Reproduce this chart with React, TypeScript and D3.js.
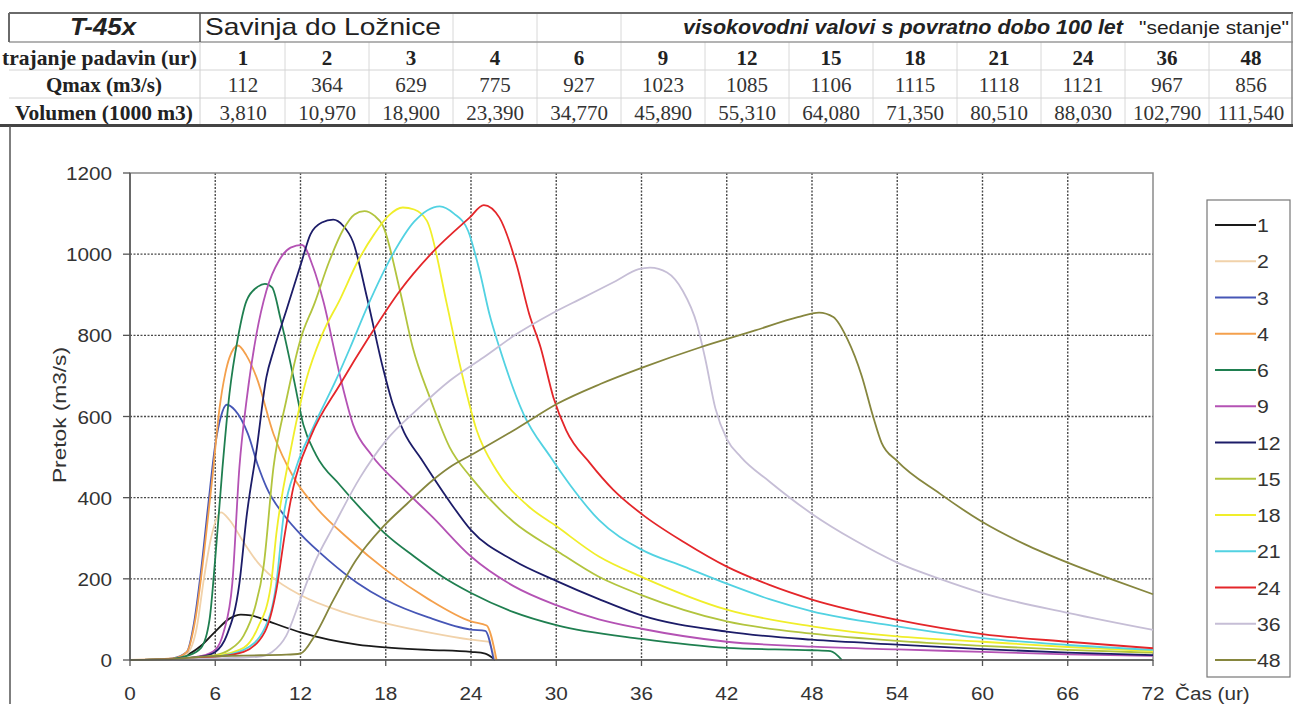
import React from 'react';
import * as d3 from 'd3';

// ---------- table data ----------
const durations = ['1', '2', '3', '4', '6', '9', '12', '15', '18', '21', '24', '36', '48'];
const qmaxValues = ['112', '364', '629', '775', '927', '1023', '1085', '1106', '1115', '1118', '1121', '967', '856'];
const volumeValues = ['3,810', '10,970', '18,900', '23,390', '34,770', '45,890', '55,310', '64,080', '71,350', '80,510', '88,030', '102,790', '111,540'];

// ---------- axes ----------
const xTicks = [0, 6, 12, 18, 24, 30, 36, 42, 48, 54, 60, 66, 72];
const yTicks = [0, 200, 400, 600, 800, 1000, 1200];

// ---------- series colours ----------
const seriesColors = ['#1a1a1a', '#f1d2aa', '#4656b6', '#f4a04c', '#1f7f50', '#b452b4', '#1c1c68', '#b2c43e', '#f0ee2a', '#52d2e2', '#e4262a', '#c6bed6', '#86863e'];

// ---------- hydrographs [time (h), Q (m3/s)] ----------
const wave1: [number, number][] = [[0, 0], [2, 1], [3, 3], [4, 12], [5, 35], [6, 70], [7, 102], [7.8, 112], [8.5, 110], [10, 92], [12, 68], [14, 50], [16, 38], [18, 31], [21, 25], [24, 20], [25, 16], [25.7, 0]];
const wave2: [number, number][] = [[0, 0], [3, 2], [4, 15], [4.7, 80], [5.2, 200], [5.7, 300], [6.4, 364], [7, 345], [8, 290], [9, 240], [10, 205], [12, 160], [15, 118], [18, 90], [21, 68], [24, 50], [25.2, 45], [25.7, 0]];
const wave3: [number, number][] = [[0, 0], [2, 1], [3, 4], [4, 20], [4.5, 90], [5, 220], [5.5, 380], [6, 530], [6.4, 600], [6.8, 629], [7.4, 615], [8.3, 557], [9, 480], [9.6, 426], [11, 350], [12, 310], [14, 245], [16, 190], [18, 148], [21, 105], [24, 75], [25, 72], [25.6, 0]];
const wave4: [number, number][] = [[0, 0], [3, 4], [4, 20], [4.6, 100], [5.2, 260], [5.8, 450], [6.3, 620], [6.7, 705], [7.0, 745], [7.6, 775], [8.2, 750], [8.9, 697], [10.1, 557], [11.5, 451], [13, 380], [15.5, 295], [18, 222], [21, 150], [24, 95], [25.1, 85], [25.8, 0]];
const wave6: [number, number][] = [[0, 0], [3, 3], [4, 10], [5, 30], [5.6, 100], [6, 250], [6.5, 470], [7, 656], [7.6, 795], [8.2, 885], [9, 920], [9.5, 927], [10, 918], [10.6, 840], [11.5, 697], [12.2, 580], [13.1, 505], [14.8, 430], [17, 345], [18, 310], [20, 255], [22, 205], [24, 165], [27, 118], [30, 86], [36, 52], [42, 30], [48, 24], [49.3, 22], [50.1, 0]];
const wave9: [number, number][] = [[0, 0], [3, 2], [5, 10], [6, 25], [6.6, 70], [7.2, 189], [7.7, 475], [8.2, 639], [8.9, 803], [9.6, 910], [10.5, 985], [11.3, 1016], [12.1, 1023], [12.9, 967], [13.6, 885], [14.8, 697], [15.7, 580], [17, 505], [19, 430], [21.3, 352], [24, 255], [27, 182], [30, 135], [33, 100], [36, 77], [42, 45], [48, 33], [54, 26], [60, 20], [66, 14], [72, 10]];
const wave12: [number, number][] = [[0, 0], [3, 2], [5, 8], [6, 20], [6.8, 60], [7.7, 189], [8.2, 352], [8.9, 516], [9.6, 697], [10.1, 762], [11, 861], [12.1, 984], [12.7, 1049], [13.5, 1078], [14.3, 1085], [15, 1070], [15.7, 1030], [16.7, 890], [17.8, 720], [18.5, 630], [19.3, 560], [20.5, 495], [22.5, 390], [24, 320], [27, 245], [30, 195], [33, 150], [36, 110], [42, 70], [48, 50], [54, 38], [60, 27], [66, 18], [72, 12]];
const wave15: [number, number][] = [[0, 0], [3, 2], [6, 12], [7, 25], [8, 60], [8.8, 130], [9.4, 230], [10.1, 475], [11, 640], [12, 790], [13, 880], [14, 980], [15, 1060], [15.8, 1098], [16.5, 1106], [17.2, 1095], [17.8, 1070], [19, 910], [19.9, 770], [21.1, 647], [22.5, 524], [24, 450], [27, 340], [30, 270], [33, 205], [36, 160], [42, 95], [48, 65], [54, 47], [60, 35], [66, 25], [72, 18]];
const wave18: [number, number][] = [[0, 0], [3, 2], [6, 10], [8, 30], [9, 80], [9.9, 180], [10.3, 311], [11.3, 516], [12.4, 690], [13.5, 800], [14.8, 890], [16, 980], [17.2, 1050], [18.2, 1095], [19.2, 1115], [20, 1110], [20.9, 1082], [22.3, 877], [23.2, 730], [24.4, 566], [25.8, 467], [28, 380], [30, 330], [33, 255], [36, 205], [42, 124], [48, 83], [54, 58], [60, 45], [66, 32], [72, 22]];
const wave21: [number, number][] = [[0, 0], [3, 2], [6, 8], [8, 25], [9.5, 80], [10.3, 189], [10.8, 352], [11.7, 475], [12.9, 574], [14.5, 690], [15.5, 770], [16.7, 870], [18.5, 1000], [20, 1080], [21.8, 1118], [22.8, 1100], [23.8, 1057], [24.6, 959], [25.3, 852], [26, 770], [27.7, 606], [29.6, 500], [31, 430], [33, 345], [36, 272], [39, 230], [42, 188], [45, 150], [48, 120], [54, 83], [60, 54], [66, 37], [72, 25]];
const wave24: [number, number][] = [[0, 0], [3, 2], [6, 8], [8, 20], [9.5, 70], [10.3, 172], [10.9, 311], [11.5, 426], [12.7, 549], [14.8, 680], [16.9, 800], [19, 910], [21.3, 1005], [23.9, 1090], [24.9, 1121], [26, 1090], [27.2, 975], [28.1, 852], [28.9, 770], [29.8, 647], [30.7, 566], [32.4, 484], [34, 420], [36, 360], [39, 290], [42, 230], [45, 185], [48, 149], [54, 99], [60, 64], [66, 45], [72, 29]];
const wave36: [number, number][] = [[0, 0], [3, 1], [6, 4], [9, 8], [10, 20], [11, 60], [12, 150], [13, 240], [14.3, 328], [16.2, 450], [18, 540], [20.3, 620], [22.5, 688], [24.9, 746], [27.2, 803], [29.6, 852], [31.9, 893], [34.2, 934], [35.8, 963], [36.6, 967], [37.8, 955], [38.9, 910], [39.9, 828], [40.5, 740], [41.2, 620], [42, 545], [43, 500], [45, 440], [48, 360], [51, 295], [54, 240], [57, 200], [60, 165], [66, 116], [72, 74]];
const wave48: [number, number][] = [[0, 0], [3, 2], [5, 8], [8, 11], [11, 13], [12, 16], [13, 60], [14.3, 147], [15.9, 246], [17.8, 328], [19.5, 385], [21.3, 443], [22.5, 475], [24, 505], [27.2, 570], [30.1, 632], [33.1, 680], [36.1, 721], [40.1, 770], [44, 812], [47, 845], [48.5, 856], [49.5, 845], [50.5, 790], [51.5, 700], [52.3, 600], [52.9, 535], [54, 490], [57, 410], [60, 340], [63, 285], [66, 240], [69, 200], [72, 162]];

const waves = [wave1, wave2, wave3, wave4, wave6, wave9, wave12, wave15, wave18, wave21, wave24, wave36, wave48];

const SANS = '"Liberation Sans", Arial, sans-serif';
const SERIF = '"Liberation Serif", "Times New Roman", serif';

type TProps = {
  x: number; y: number; children: React.ReactNode; anchor?: string; size: number;
  family?: string; weight?: string; italic?: boolean; fill?: string; sx?: number; len?: number; rotate?: number;
};
function T({ x, y, children, anchor = 'middle', size, family = SANS, weight = 'normal', italic = false, fill = '#222', sx = 1, len, rotate = 0 }: TProps) {
  const extra: any = {};
  if (len) { extra.textLength = len; extra.lengthAdjust = 'spacingAndGlyphs'; }
  return (
    <text
      transform={`translate(${x},${y}) rotate(${rotate}) scale(${sx},1)`}
      textAnchor={anchor as any}
      fontSize={size}
      fontFamily={family}
      fontWeight={weight}
      fontStyle={italic ? 'italic' : 'normal'}
      fill={fill}
      {...extra}
    >{children}</text>
  );
}

export default function App() {
  const W = 1293, H = 704;
  const x = d3.scaleLinear().domain([0, 72]).range([130, 1153]);
  const y = d3.scaleLinear().domain([0, 1200]).range([660, 173]);
  const col = d3.scaleBand<string>().domain(durations).range([201, 1293]);
  const line = d3.line<[number, number]>().x(d => x(d[0])).y(d => y(d[1])).curve(d3.curveMonotoneX);
  const legendY = d3.scalePoint<string>().domain(durations).range([225, 660]);

  return (
    <svg width={W} height={H} style={{ position: 'absolute', left: 0, top: 0, background: '#fff' }}>
      <rect x={0} y={0} width={W} height={H} fill="#fff" />
      {/* ---------- table ---------- */}
      {durations.map((d, i) => i > 0 ? (
        <line key={'cv' + d} x1={col(d)!} x2={col(d)!} y1={42} y2={126} stroke="#d8d8d8" strokeWidth={1} />
      ) : null)}
      {['4', '6', '9'].map(d => (
        <line key={'tv' + d} x1={col(d)!} x2={col(d)!} y1={13} y2={42} stroke="#d8d8d8" strokeWidth={1} />
      ))}
      <line x1={9} x2={1293} y1={70} y2={70} stroke="#d4d4d4" strokeWidth={1} />
      <line x1={9} x2={1293} y1={98} y2={98} stroke="#d4d4d4" strokeWidth={1} />
      <line x1={9} x2={1293} y1={42} y2={42} stroke="#9a9a9a" strokeWidth={1.5} />
      <line x1={9} x2={1293} y1={13} y2={13} stroke="#6a6a6a" strokeWidth={2} />
      <line x1={9} x2={9} y1={13} y2={42} stroke="#6a6a6a" strokeWidth={2} />
      <line x1={200} x2={200} y1={13} y2={42} stroke="#555" strokeWidth={1.5} />
      <line x1={200} x2={200} y1={42} y2={126} stroke="#d0d0d0" strokeWidth={1} />
      <line x1={1292} x2={1292} y1={13} y2={126} stroke="#888" strokeWidth={1.5} />
      <line x1={0} x2={1293} y1={125.5} y2={125.5} stroke="#444" strokeWidth={3} />

      <T x={103} y={35} size={24} weight="bold" italic len={66}>T-45x</T>
      <T x={205} y={35} size={24} anchor="start" len={236}>Savinja do Ložnice</T>
      <T x={1123} y={34} size={20} weight="bold" italic anchor="end" len={440}>visokovodni valovi s povratno dobo 100 let</T>
      <T x={1289} y={34} size={19} anchor="end" len={150}>"sedanje stanje"</T>

      <T x={2} y={65} size={21} family={SERIF} weight="bold" anchor="start" len={195}>trajanje padavin (ur)</T>
      <T x={104} y={92} size={21} family={SERIF} weight="bold">Qmax (m3/s)</T>
      <T x={104} y={120} size={21} family={SERIF} weight="bold" len={178}>Volumen (1000 m3)</T>
      {durations.map((d, i) => (
        <g key={'tc' + d}>
          <T x={col(d)! + col.bandwidth() / 2} y={65} size={21} family={SERIF} weight="bold" fill="#222">{d}</T>
          <T x={col(d)! + col.bandwidth() / 2} y={92} size={21} family={SERIF} fill="#333">{qmaxValues[i]}</T>
          <T x={col(d)! + col.bandwidth() / 2} y={120} size={21} family={SERIF} fill="#333">{volumeValues[i]}</T>
        </g>
      ))}

      {/* ---------- chart frame ---------- */}
      <line x1={10} x2={10} y1={126} y2={H} stroke="#555" strokeWidth={1.5} />

      {/* grid */}
      {yTicks.filter(v => v > 0 && v < 1200).map(v => (
        <line key={'gy' + v} x1={x(0)} x2={x(72)} y1={y(v)} y2={y(v)} stroke="#4a4a4a" strokeWidth={1.4} strokeDasharray="2 1.5" />
      ))}
      {xTicks.filter(v => v > 0 && v < 72).map(v => (
        <line key={'gx' + v} x1={x(v)} x2={x(v)} y1={y(1200)} y2={y(0)} stroke="#4a4a4a" strokeWidth={1.4} strokeDasharray="2 1.5" />
      ))}
      <rect x={x(0)} y={y(1200)} width={x(72) - x(0)} height={y(0) - y(1200)} fill="none" stroke="#8a8a8a" strokeWidth={1.5} />

      {/* series */}
      {waves.map((w, i) => (
        <path key={'s' + i} d={line(w) || ''} fill="none" stroke={seriesColors[i]} strokeWidth={1.8} strokeLinejoin="round" />
      ))}

      {/* axes */}
      <line x1={x(0)} x2={x(72)} y1={y(0)} y2={y(0)} stroke="#555" strokeWidth={1.5} />
      <line x1={x(0)} x2={x(0)} y1={y(0)} y2={y(1200)} stroke="#555" strokeWidth={1.5} />
      {xTicks.map(v => (
        <g key={'xt' + v}>
          <line x1={x(v)} x2={x(v)} y1={y(0)} y2={y(0) + 6} stroke="#555" strokeWidth={1.3} />
          <T x={x(v)} y={700} size={18.5} sx={1.12} fill="#333">{v}</T>
        </g>
      ))}
      {yTicks.map(v => (
        <g key={'yt' + v}>
          <line x1={x(0) - 7} x2={x(0)} y1={y(v)} y2={y(v)} stroke="#555" strokeWidth={1.3} />
          <T x={112} y={y(v) + 7} size={18.5} sx={1.12} anchor="end" fill="#333">{v}</T>
        </g>
      ))}
      <T x={66} y={415} size={19} rotate={-90} fill="#333" len={136}>Pretok (m3/s)</T>
      <T x={1175} y={700} size={18.5} sx={1.12} anchor="start" fill="#333">Čas (ur)</T>

      {/* legend */}
      <rect x={1207} y={200} width={83} height={477} fill="#fff" stroke="#777" strokeWidth={1.2} />
      {durations.map((d, i) => (
        <g key={'lg' + d}>
          <line x1={1215} x2={1256} y1={legendY(d)!} y2={legendY(d)!} stroke={seriesColors[i]} strokeWidth={2} />
          <T x={1257} y={legendY(d)! + 7} size={19} sx={1.12} anchor="start" fill="#333">{d}</T>
        </g>
      ))}
    </svg>
  );
}
